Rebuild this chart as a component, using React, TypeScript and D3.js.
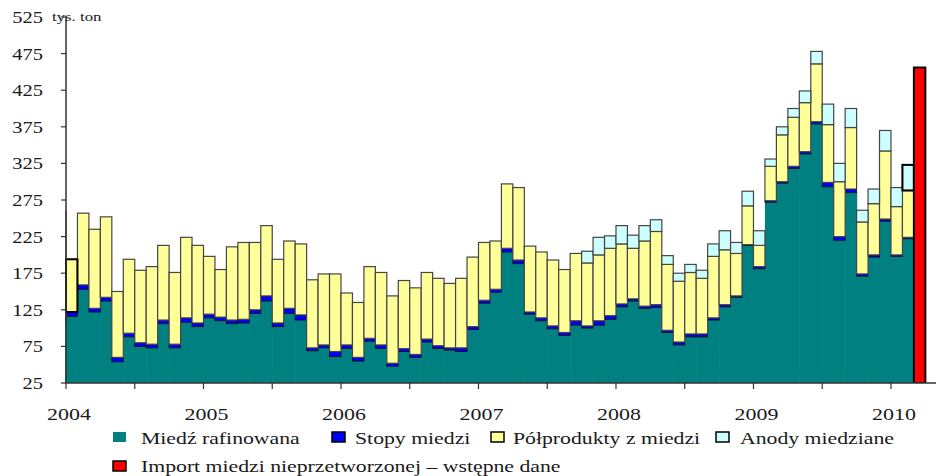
import React from "react";
import * as d3 from "d3";

// monthly imports, thousand tonnes (Dec 2003 is only partly visible at the left edge)
const months = d3
  .timeMonths(new Date(2003, 11, 1), new Date(2010, 3, 1))
  .map(d3.timeFormat("%Y-%m"));

const refined = [
  110,
  116, 153, 122, 137, 54, 88, 75, 73, 106, 73, 108, 102,
  114, 110, 106, 107, 120, 137, 102, 120, 111, 69, 73, 61,
  72, 55, 82, 72, 48, 68, 60, 81, 72, 70, 68, 98,
  134, 149, 204, 188, 119, 110, 99, 90, 104, 100, 104, 112,
  129, 137, 127, 128, 94, 77, 88, 88, 111, 129, 142, 213,
  181, 272, 298, 318, 338, 379, 293, 220, 285, 171, 197, 246,
  198, 222, 0,
];
const ingots = [
  5,
  6, 6, 5, 5, 6, 5, 5, 5, 5, 5, 6, 5,
  5, 5, 5, 5, 5, 7, 5, 7, 7, 4, 4, 7,
  5, 5, 4, 5, 4, 4, 4, 4, 4, 3, 5, 4,
  4, 4, 5, 5, 3, 4, 4, 4, 6, 3, 6, 5,
  4, 3, 3, 4, 3, 4, 4, 4, 3, 3, 2, 1,
  3, 2, 2, 3, 3, 3, 6, 5, 5, 3, 3, 3,
  2, 2, 0,
];
const semis = [
  144,
  72, 98, 108, 110, 90, 101, 99, 106, 102, 98, 110, 106,
  79, 65, 100, 105, 92, 96, 87, 92, 97, 93, 97, 106,
  71, 75, 98, 99, 92, 93, 91, 91, 92, 88, 95, 95,
  79, 66, 88, 99, 90, 90, 90, 86, 92, 86, 90, 92,
  82, 69, 89, 100, 90, 83, 84, 76, 84, 75, 58, 53,
  29, 47, 64, 67, 67, 79, 79, 75, 84, 71, 70, 93,
  66, 64, 0,
];
const anodes = [
  0,
  0, 0, 0, 0, 0, 0, 0, 0, 0, 0, 0, 0,
  0, 0, 0, 0, 0, 0, 0, 0, 0, 0, 0, 0,
  0, 0, 0, 0, 0, 0, 0, 0, 0, 0, 0, 0,
  0, 0, 0, 0, 0, 0, 0, 0, 0, 16, 24, 17,
  25, 18, 21, 16, 12, 11, 11, 11, 17, 26, 15, 20,
  20, 10, 11, 12, 16, 17, 28, 25, 26, 16, 20, 28,
  26, 35, 0,
];
const importMonths = ["2010-03"];
const importValues = [456];
const boldMonths = ["2004-01", "2010-02"];

const yTickValues = d3.range(25, 526, 50);

const keys = ["refined", "ingots", "semis", "anodes"];
const colors: Record<string, string> = {
  refined: "#008080",
  ingots: "#0000ff",
  semis: "#ffff99",
  anodes: "#ccffff",
};

const legendRow1 = [
  { key: "refined", label: "Miedź rafinowana", box: 113, text: 141 },
  { key: "ingots", label: "Stopy miedzi", box: 332, text: 355 },
  { key: "semis", label: "Półprodukty z miedzi", box: 491, text: 513 },
  { key: "anodes", label: "Anody miedziane", box: 716, text: 740 },
];

const FONT = "'Liberation Serif', 'Times New Roman', serif";

// the original text is stretched sideways, so scale it on x
const Txt = ({ x, y, sx, size, anchor = "start", children }: any) => (
  <text
    transform={`translate(${x},${y}) scale(${sx},1)`}
    fontFamily={FONT}
    fontSize={size}
    textAnchor={anchor}
    fill="#1a1a1a"
  >
    {children}
  </text>
);

export default function App() {
  const W = 936;
  const H = 476;
  const step = 11.458;
  const left = 66;
  const bottom = 383;

  const x = d3
    .scaleBand()
    .domain(months)
    .range([left - step, left + (months.length - 1) * step])
    .padding(0);
  const y = d3.scaleLinear().domain([25, 525]).range([bottom, 17]);

  const rows = months.map((m, i) => ({
    month: m,
    refined: refined[i],
    ingots: ingots[i],
    semis: semis[i],
    anodes: anodes[i],
  }));
  const series = d3.stack<any>().keys(keys)(rows);

  const bw = x.bandwidth();
  const yc = (v: number) => y(Math.max(25, v));

  const strokeFor = (key: string) =>
    key === "refined" ? "none" : key === "ingots" ? "#000" : "#454545";

  const xTicks = months.filter((m) => m >= "2004" && (m.endsWith("-01") || m.endsWith("-07")));
  const years = months.filter((m) => m >= "2004" && m.endsWith("-01"));

  // bold outline on the top segment of the marked months
  const bold = boldMonths.map((m) => {
    const i = months.indexOf(m);
    const s = [...series].reverse().find((sr) => sr[i][1] - sr[i][0] > 0)!;
    return { m, y0: s[i][0], y1: s[i][1] };
  });

  return (
    <svg width={W} height={H} style={{ position: "absolute", left: 0, top: 0, background: "#fff" }}>
      <defs>
        <clipPath id="plot">
          <rect x={left - 1} y={0} width={W - left} height={bottom} />
        </clipPath>
      </defs>

      <g clipPath="url(#plot)">
        {series.map((s) => (
          <g key={s.key}>
            {s.map((d, i) =>
              d[1] - d[0] > 0 ? (
                <rect
                  key={i}
                  x={x(months[i])!}
                  y={yc(d[1])}
                  width={s.key === "refined" ? bw + 0.6 : bw}
                  height={yc(d[0]) - yc(d[1])}
                  fill={colors[s.key]}
                  stroke={strokeFor(s.key)}
                  strokeWidth={s.key === "ingots" ? 0.8 : 1.2}
                />
              ) : null
            )}
          </g>
        ))}
        {bold.map((b) => (
          <rect
            key={b.m}
            x={x(b.m)!}
            y={yc(b.y1)}
            width={bw}
            height={yc(b.y0) - yc(b.y1)}
            fill="none"
            stroke="#000"
            strokeWidth={2}
          />
        ))}
        {importMonths.map((m, i) => (
          <rect
            key={m}
            x={x(m)!}
            y={y(importValues[i])}
            width={bw}
            height={bottom - y(importValues[i])}
            fill="#ff0000"
            stroke="#000"
            strokeWidth={2}
          />
        ))}
      </g>

      {/* y axis */}
      <line x1={left} x2={left} y1={y(525)} y2={bottom} stroke="#333" strokeWidth={1.5} />
      {yTickValues.map((v) => (
        <g key={v}>
          <line x1={left - 5} x2={left} y1={y(v)} y2={y(v)} stroke="#333" strokeWidth={1.2} />
          <Txt x={43} y={y(v) + 6} sx={1.17} size={17.5} anchor="end">
            {v}
          </Txt>
        </g>
      ))}
      <Txt x={52} y={21} sx={1.4} size={12}>
        tys. ton
      </Txt>

      {/* x axis */}
      <line x1={left} x2={W} y1={bottom} y2={bottom} stroke="#333" strokeWidth={1.5} />
      {xTicks.map((m) => (
        <line key={m} x1={x(m)!} x2={x(m)!} y1={bottom} y2={bottom + 6} stroke="#333" strokeWidth={1.2} />
      ))}
      {years.map((m) => (
        <Txt key={m} x={x(m)! + 3} y={420} sx={1.33} size={16.5} anchor="middle">
          {m.slice(0, 4)}
        </Txt>
      ))}

      {/* legend */}
      {legendRow1.map((l) => (
        <g key={l.key}>
          <rect
            x={l.box}
            y={432}
            width={13}
            height={10}
            fill={colors[l.key]}
            stroke={l.key === "refined" ? "none" : "#000"}
            strokeWidth={1.5}
          />
          <Txt x={l.text} y={444} sx={1.36} size={16}>
            {l.label}
          </Txt>
        </g>
      ))}
      <rect x={113} y={461} width={13} height={10} fill="#ff0000" stroke="#000" strokeWidth={1.5} />
      <Txt x={141} y={472} sx={1.36} size={16}>
        Import miedzi nieprzetworzonej – wstępne dane
      </Txt>
    </svg>
  );
}
